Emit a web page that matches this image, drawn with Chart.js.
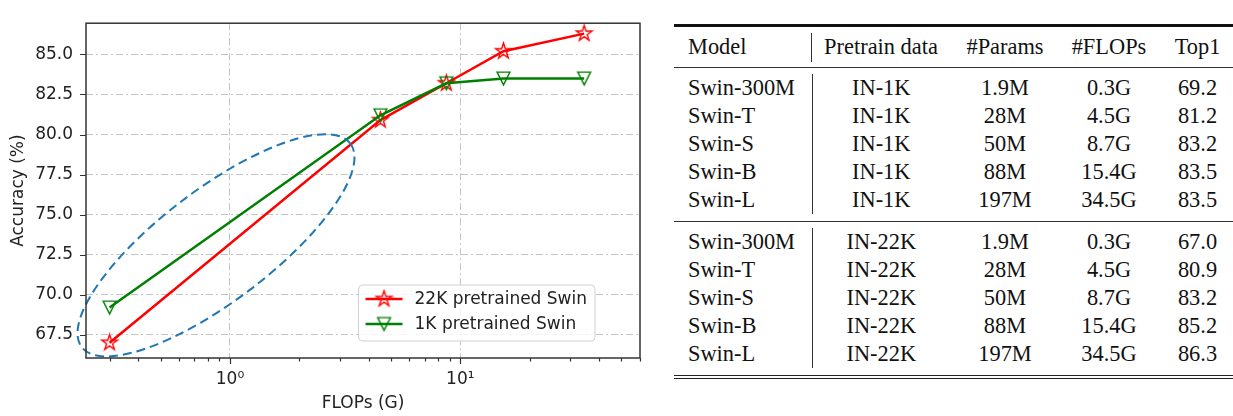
<!DOCTYPE html>
<html>
<head>
<meta charset="utf-8">
<script src="https://cdn.jsdelivr.net/npm/chart.js@4.4.0/dist/chart.umd.min.js"></script>
<style>
  body { margin: 0; width: 1233px; height: 416px; background: #fff; position: relative; overflow: hidden; }
  #plot { position: absolute; left: 0; top: 0; width: 660px; height: 416px; }
  #tbl { position: absolute; left: 674px; top: 24px; width: 559px; border-collapse: collapse; table-layout: fixed;
         font: 22.4px "Liberation Serif", "Times New Roman", serif; color: #111;
         border-top: 3px solid #111; border-bottom: 4px double #222; }
  #tbl th, #tbl td { padding: 0; text-align: center; font-weight: normal; height: 28px; line-height: 28px; white-space: nowrap; }
  #tbl th:first-child, #tbl td:first-child { text-align: left; padding-left: 14px; }
  #tbl th:last-child, #tbl td:last-child { padding-left: 4px; }
  #tbl thead th { height: 40px; line-height: 40px; border-bottom: 1px solid #333; }
  #tbl thead th:first-child { position: relative; }
  #tbl thead th:first-child::after { content: ''; position: absolute; right: 0; top: 6px; bottom: 5px; border-right: 1px solid #333; }
  #tbl tbody + tbody { border-top: 1px solid #333; }
  #tbl tbody tr.row td:first-child { border-right: 1px solid #333; }
  #tbl tr.padtop td { height: 6px; line-height: 6px; }
  #tbl tr.padbot td { height: 7px; line-height: 7px; }
</style>
</head>
<body>
<div id="plot"><canvas id="acc"></canvas></div>
<table id="tbl">
  <colgroup><col style="width:138px"><col style="width:138px"><col style="width:110px"><col style="width:98px"><col style="width:75px"></colgroup>
  <thead><tr id="head"></tr></thead>
  <tbody id="g1k"></tbody>
  <tbody id="g22k"></tbody>
</table>
<script>
// data
var models = ['Swin-300M', 'Swin-T', 'Swin-S', 'Swin-B', 'Swin-L'];
var params = ['1.9M', '28M', '50M', '88M', '197M'];
var flops = [0.3, 4.5, 8.7, 15.4, 34.5];
var acc22k = [67.0, 80.9, 83.2, 85.2, 86.3];
var acc1k = [69.2, 81.2, 83.2, 83.5, 83.5];
var seriesLabels = ['22K pretrained Swin', '1K pretrained Swin'];
var headers = ['Model', 'Pretrain data', '#Params', '#FLOPs', 'Top1'];
var yTicks = [67.5, 70.0, 72.5, 75.0, 77.5, 80.0, 82.5, 85.0];
var xTickLabels = { 1: '10\u2070', 10: '10\u00B9' };
// dashed ellipse: ends of its long axis in (FLOPs, accuracy), and short/long ratio
var ellipseEnds = [[0.227, 66.73], [3.33, 79.44]];
var ellipseRatio = 0.332;

// TABLE

document.getElementById('head').innerHTML = headers.map(function (h) { return '<th>' + h + '</th>'; }).join('');

function fillGroup(id, pretrain, top1) {
    var html = '<tr class="padtop"><td></td><td></td><td></td><td></td><td></td></tr>';
    for (var i = 0; i < models.length; i++) {
        html += '<tr class="row"><td>' + models[i] + '</td><td>' + pretrain + '</td><td>' + params[i] +
            '</td><td>' + flops[i] + 'G</td><td>' + top1[i].toFixed(1) + '</td></tr>';
    }
    html += '<tr class="padbot"><td></td><td></td><td></td><td></td><td></td></tr>';
    document.getElementById(id).innerHTML = html;
}
fillGroup('g1k', 'IN-1K', acc1k);
fillGroup('g22k', 'IN-22K', acc22k);

// MARKERS (hollow, like matplotlib '*' and 'v')

function starMarker(color, r) {
    var c = document.createElement('canvas');
    c.width = c.height = Math.ceil(2 * r + 4);
    var g = c.getContext('2d'), m = c.width / 2;
    g.beginPath();
    for (var k = 0; k < 10; k++) {
        var rad = k % 2 ? r * 0.382 : r;
        var ang = -Math.PI / 2 + k * Math.PI / 5;
        g.lineTo(m + rad * Math.cos(ang), m + rad * Math.sin(ang));
    }
    g.closePath();
    g.strokeStyle = color;
    g.lineWidth = 1.4;
    g.lineJoin = 'miter';
    g.stroke();
    return c;
}

function downTriangle(color, r) {
    var c = document.createElement('canvas');
    c.width = c.height = Math.ceil(2 * r + 4);
    var g = c.getContext('2d'), m = c.width / 2;
    g.beginPath();
    g.moveTo(m - r, m - r);
    g.lineTo(m + r, m - r);
    g.lineTo(m, m + r);
    g.closePath();
    g.strokeStyle = color;
    g.lineWidth = 1.4;
    g.stroke();
    return c;
}

var redStar = starMarker('#ff0000', 8.2);
var greenTri = downTriangle('#008000', 6.4);

// CHART

Chart.defaults.font.family = '"DejaVu Sans", sans-serif';
Chart.defaults.font.size = 17;
Chart.defaults.color = '#222';

var gridColor = '#c4c4c4';
var dashDot = [7, 3, 2, 3];

var decorations = {
    id: 'decorations',
    afterDatasetsDraw: function (chart) {
        var ctx = chart.ctx, x = chart.scales.x, y = chart.scales.y;
        var x1 = x.getPixelForValue(ellipseEnds[0][0]), y1 = y.getPixelForValue(ellipseEnds[0][1]);
        var x2 = x.getPixelForValue(ellipseEnds[1][0]), y2 = y.getPixelForValue(ellipseEnds[1][1]);
        var a = Math.hypot(x2 - x1, y2 - y1) / 2;
        ctx.save();
        ctx.beginPath();
        ctx.ellipse((x1 + x2) / 2, (y1 + y2) / 2, a, a * ellipseRatio, Math.atan2(y2 - y1, x2 - x1), 0, Math.PI * 2);
        ctx.setLineDash([9, 5]);
        ctx.lineWidth = 2;
        ctx.strokeStyle = '#1f77b4';
        ctx.stroke();
        ctx.restore();
    },
    afterDraw: function (chart) {
        var ctx = chart.ctx, area = chart.chartArea, x = chart.scales.x, y = chart.scales.y;
        ctx.save();
        // tick marks
        ctx.strokeStyle = '#333';
        ctx.lineWidth = 1.2;
        ctx.beginPath();
        x.ticks.forEach(function (t) {
            var px = Math.round(x.getPixelForValue(t.value)) + 0.5;
            ctx.moveTo(px, area.bottom);
            ctx.lineTo(px, area.bottom + (t.major ? 6 : 3.5));
        });
        y.ticks.forEach(function (t) {
            var py = Math.round(y.getPixelForValue(t.value)) + 0.5;
            ctx.moveTo(area.left - 6, py);
            ctx.lineTo(area.left, py);
        });
        ctx.stroke();
        // frame
        ctx.strokeStyle = '#333';
        ctx.lineWidth = 1.5;
        ctx.strokeRect(area.left, area.top, area.right - area.left, area.bottom - area.top);

        // legend in the lower right
        var rowH = 25, pad = 7, handle = 37, gap = 12;
        ctx.font = '17px "DejaVu Sans", sans-serif';
        var tw = 0;
        chart.data.datasets.forEach(function (ds) { tw = Math.max(tw, ctx.measureText(ds.label).width); });
        var w = pad + handle + gap + tw + pad + 1, h = 56;
        var right = area.right - 45, bottom = area.bottom - 17;
        var left = right - w, top = bottom - h;
        ctx.beginPath();
        ctx.roundRect(left, top, w, h, 4);
        ctx.fillStyle = 'rgba(255,255,255,0.8)';
        ctx.fill();
        ctx.strokeStyle = '#d0d0d0';
        ctx.lineWidth = 1;
        ctx.stroke();
        chart.data.datasets.forEach(function (ds, i) {
            var cy = top + 14 + i * rowH;
            var hx = left + pad;
            ctx.beginPath();
            ctx.moveTo(hx, cy);
            ctx.lineTo(hx + handle, cy);
            ctx.strokeStyle = ds.borderColor;
            ctx.lineWidth = ds.borderWidth;
            ctx.stroke();
            var img = ds.pointStyle;
            ctx.drawImage(img, hx + handle / 2 - img.width / 2, cy - img.height / 2);
            ctx.fillStyle = '#222';
            ctx.textBaseline = 'middle';
            ctx.textAlign = 'left';
            ctx.fillText(ds.label, hx + handle + gap, cy + 1);
        });
        ctx.restore();
    }
};

var ctx = document.getElementById('acc').getContext('2d');
var chart = new Chart(ctx, {
    type: 'line',
    data: {
        datasets: [{
            label: seriesLabels[0],
            data: flops.map(function (f, i) { return { x: f, y: acc22k[i] }; }),
            borderColor: '#ff0000',
            borderWidth: 2.5,
            pointStyle: redStar,
            pointRadius: 8,
            tension: 0,
            order: 2
        }, {
            label: seriesLabels[1],
            data: flops.map(function (f, i) { return { x: f, y: acc1k[i] }; }),
            borderColor: '#008000',
            borderWidth: 2.5,
            pointStyle: greenTri,
            pointRadius: 7,
            tension: 0,
            order: 1
        }]
    },
    options: {
        responsive: true,
        maintainAspectRatio: false,
        animation: false,
        events: [],
        layout: { padding: { left: 0, right: 20, top: 5, bottom: 0 } },
        plugins: {
            legend: { display: false },
            tooltip: { enabled: false }
        },
        scales: {
            x: {
                type: 'logarithmic',
                min: 0.237,
                max: 60.3,
                afterBuildTicks: function (scale) {
                    var t = [];
                    [0.1, 1, 10].forEach(function (d) {
                        for (var m = 1; m <= 9; m++) {
                            var v = +(m * d).toPrecision(3);
                            if (v >= scale.min && v <= scale.max) t.push({ value: v, major: m === 1 });
                        }
                    });
                    scale.ticks = t;
                },
                afterFit: function (scale) { scale.height = 58; },
                ticks: {
                    autoSkip: false,
                    maxRotation: 0,
                    padding: 11,
                    callback: function (v) { return xTickLabels[v] || ''; }
                },
                grid: {
                    drawTicks: false,
                    lineWidth: 1,
                    color: function (c) { return c.tick && xTickLabels[c.tick.value] ? gridColor : 'rgba(0,0,0,0)'; }
                },
                border: { display: false, dash: dashDot },
                title: { display: true, text: 'FLOPs (G)', padding: { top: 0, bottom: 2 } }
            },
            y: {
                type: 'linear',
                min: 66.05,
                max: 86.95,
                afterBuildTicks: function (scale) {
                    scale.ticks = yTicks.map(function (v) { return { value: v }; });
                },
                afterFit: function (scale) { scale.width = 86; },
                ticks: {
                    padding: 13,
                    callback: function (v) { return v.toFixed(1); }
                },
                grid: { drawTicks: false, lineWidth: 1, color: gridColor },
                border: { display: false, dash: dashDot },
                title: { display: true, text: 'Accuracy (%)', padding: { top: 8, bottom: 0 } }
            }
        }
    },
    plugins: [decorations]
});
</script>
</body>
</html>
